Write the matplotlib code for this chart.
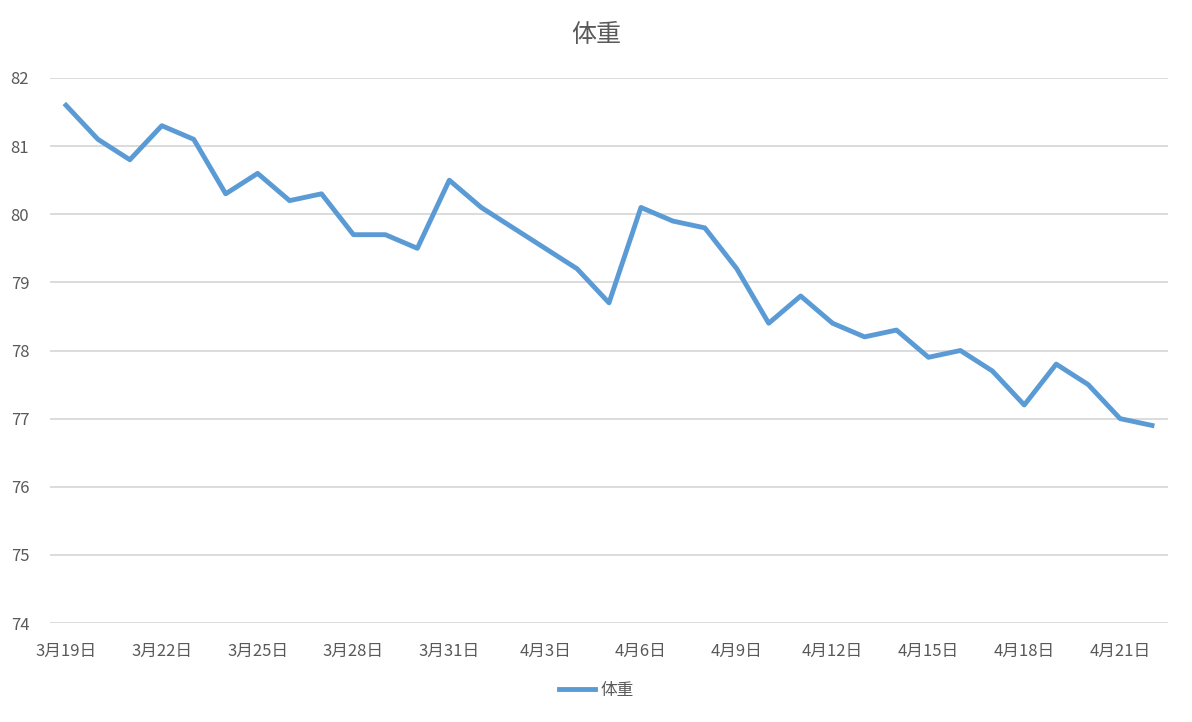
import numpy as np
import matplotlib.pyplot as plt

plt.rcParams['font.family'] = ['Noto Sans CJK SC', 'DejaVu Sans']

# 3月19日 .. 4月22日
months = [3] * 13 + [4] * 22
days = list(range(19, 32)) + list(range(1, 23))
weight = [81.6, 81.1, 80.8, 81.3, 81.1, 80.3, 80.6, 80.2, 80.3, 79.7,
          79.7, 79.5, 80.5, 80.1, 79.8, 79.5, 79.2, 78.7, 80.1, 79.9,
          79.8, 79.2, 78.4, 78.8, 78.4, 78.2, 78.3, 77.9, 78.0, 77.7,
          77.2, 77.8, 77.5, 77.0, 76.9]
labels = [f'{m}月{d}日' for m, d in zip(months, days)]

txt = '#595959'
fig = plt.figure(figsize=(11.92, 7.22), dpi=100)
ax = fig.add_axes([50 / 1192, 99 / 722, 1118 / 1192, 545 / 722])

x = np.arange(len(weight))
line, = ax.plot(x, weight, color='#5B9BD5', lw=3.5, solid_joinstyle='round', label='体重')

ax.set_xlim(-0.5, len(weight) - 0.5)
ax.set_ylim(74, 82)
ax.set_yticks(range(74, 83))
ax.set_xticks(x[::3])
ax.set_xticklabels(labels[::3])
ax.grid(axis='y', color='#D9D9D9', lw=1.3)
ax.set_axisbelow(True)
for s in ax.spines.values():
    s.set_visible(False)
ax.tick_params(length=0, labelsize=12, colors=txt)
ax.tick_params(axis='x', pad=14)
ax.tick_params(axis='y', pad=15)

fig.text(0.5, 1 - 35 / 722, '体重', ha='center', va='center', fontsize=18, color=txt)
fig.legend(handles=[line], loc='center', bbox_to_anchor=(0.5, 1 - 690 / 722),
           frameon=False, fontsize=12, labelcolor=txt, handlelength=2.2, handletextpad=0.3)

fig.savefig('out.png', dpi=100)
